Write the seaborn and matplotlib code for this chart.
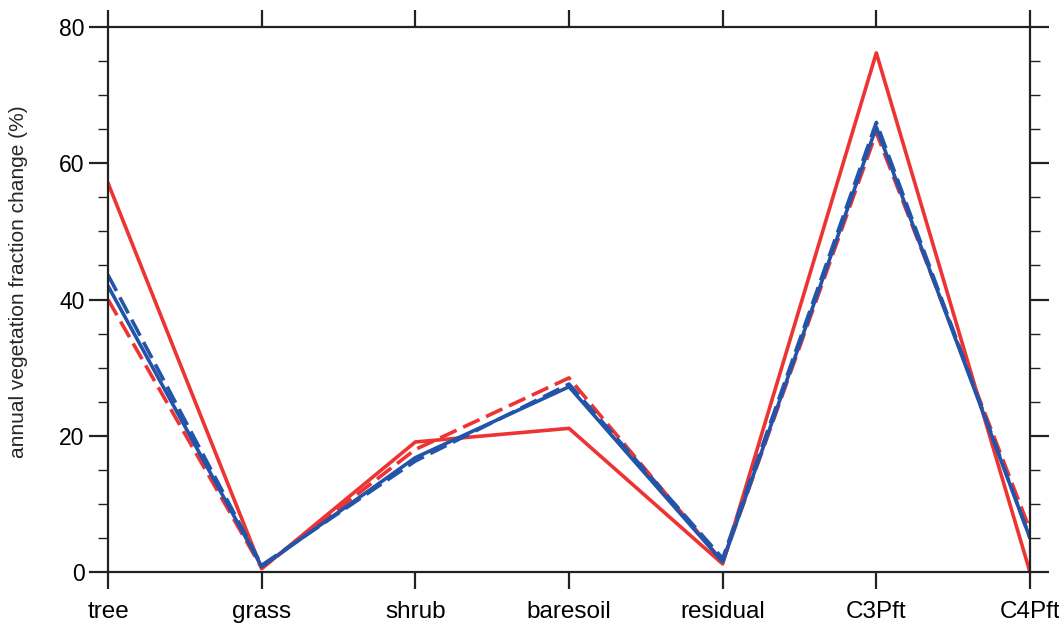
import numpy as np
import pandas as pd
import matplotlib
matplotlib.use("Agg")
import matplotlib.pyplot as plt
import seaborn as sns
from matplotlib.ticker import MultipleLocator

# vegetation types on the x axis
categories = ["tree", "grass", "shrub", "baresoil", "residual", "C3Pft", "C4Pft"]

# annual vegetation fraction change (%) for each run
red_solid = [57.1, 0.5, 19.1, 21.1, 1.2, 76.2, 0.0]
red_dash = [40.0, 0.6, 18.0, 28.5, 1.5, 64.5, 6.2]
blue_solid = [42.0, 0.8, 16.8, 27.2, 1.5, 65.3, 5.0]
blue_dash = [43.6, 1.0, 16.3, 27.6, 2.0, 66.0, 5.0]

red = "#EE3333"
blue = "#2255AA"

sns.set_style("ticks")
plt.rcParams["font.family"] = ["Liberation Sans", "DejaVu Sans"]

fig = plt.figure(figsize=(10.59, 6.28), dpi=100)
ax = fig.add_axes([0.102, 0.089, 0.8706, 0.868])

x = np.arange(len(categories))
series = [
    (red_solid, red, "-"),
    (red_dash, red, (0, (5, 2))),
    (blue_solid, blue, "-"),
    (blue_dash, blue, (0, (5, 2))),
]
for vals, col, ls in series:
    df = pd.DataFrame({"x": x, "y": vals})
    sns.lineplot(data=df, x="x", y="y", ax=ax, color=col, linestyle=ls,
                 linewidth=2.6, sort=False)

ax.set_xlim(0, len(categories) - 1)
ax.set_ylim(0, 80)
ax.set_xticks(x)
ax.set_xticklabels(categories, fontsize=17.5)
ax.yaxis.set_major_locator(MultipleLocator(20))
ax.yaxis.set_minor_locator(MultipleLocator(5))
ax.set_xlabel("")
ax.set_ylabel("annual vegetation fraction change (%)", fontsize=15)
ax.yaxis.set_label_coords(-0.087, 0.532)

for s in ax.spines.values():
    s.set_visible(True)
    s.set_linewidth(1.6)
    s.set_color("#222222")

ax.tick_params(axis="x", which="major", direction="out", length=12, width=1.6,
               top=True, bottom=True, pad=9, colors="#222222")
ax.tick_params(axis="x", labelcolor="black")
ax.tick_params(axis="y", which="major", direction="out", length=14, width=1.6,
               left=True, right=True, labelsize=16.5, pad=3, colors="#222222")
ax.tick_params(axis="y", which="minor", direction="out", length=7, width=1.0,
               left=True, right=True, colors="#222222")
ax.tick_params(axis="y", labelcolor="black")

fig.savefig("out.png", dpi=100)
